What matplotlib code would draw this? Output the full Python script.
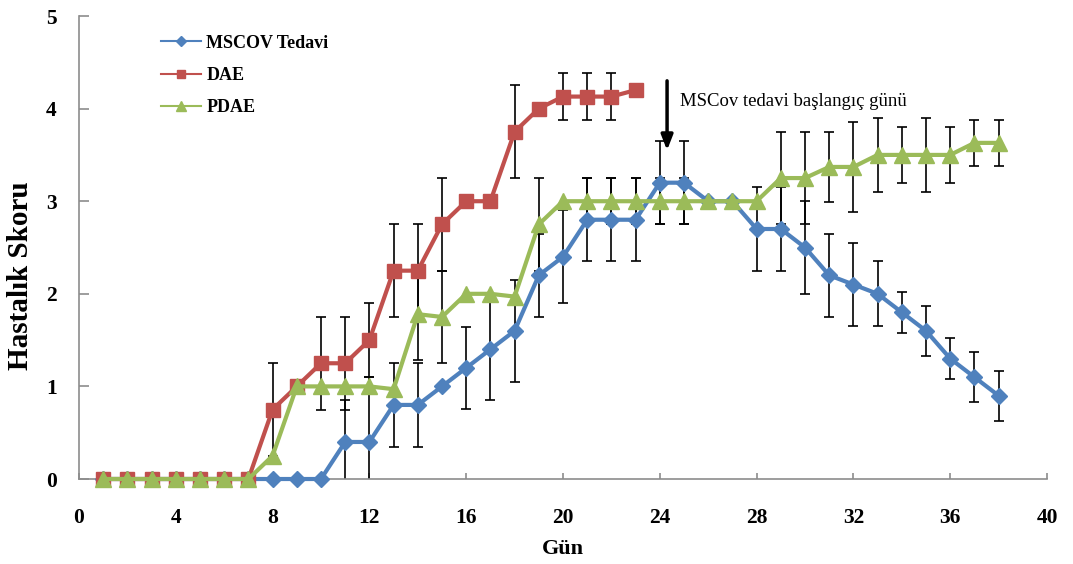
import matplotlib.pyplot as plt
import numpy as np

# Hastalik skoru verileri (gun bazinda ortalama ve hata)
days_mscov = list(range(1, 39))
mscov = [0, 0, 0, 0, 0, 0, 0, 0, 0, 0,
         0.4, 0.4, 0.8, 0.8, 1.0, 1.2, 1.4, 1.6, 2.2, 2.4,
         2.8, 2.8, 2.8, 3.2, 3.2, 3.0, 3.0, 2.7, 2.7, 2.5,
         2.2, 2.1, 2.0, 1.8, 1.6, 1.3, 1.1, 0.9]
mscov_err = [0, 0, 0, 0, 0, 0, 0, 0, 0, 0,
             0.45, 0.7, 0.45, 0.45, 0, 0.44, 0.55, 0.55, 0.45, 0.5,
             0.45, 0.45, 0.45, 0.45, 0.45, 0, 0, 0.45, 0.45, 0.5,
             0.45, 0.45, 0.35, 0.22, 0.27, 0.22, 0.27, 0.27]

days_dae = list(range(1, 24))
dae = [0, 0, 0, 0, 0, 0, 0, 0.75, 1.0, 1.25,
       1.25, 1.5, 2.25, 2.25, 2.75, 3.0, 3.0, 3.75, 4.0, 4.13,
       4.13, 4.13, 4.2]
dae_err = [0, 0, 0, 0, 0, 0, 0, 0.5, 0, 0.5,
           0.5, 0.4, 0.5, 0.5, 0.5, 0, 0, 0.5, 0, 0.25,
           0.25, 0.25, 0]

days_pdae = list(range(1, 39))
pdae = [0, 0, 0, 0, 0, 0, 0, 0.25, 1.0, 1.0,
        1.0, 1.0, 0.97, 1.78, 1.75, 2.0, 2.0, 1.97, 2.75, 3.0,
        3.0, 3.0, 3.0, 3.0, 3.0, 3.0, 3.0, 3.0, 3.25, 3.25,
        3.37, 3.37, 3.5, 3.5, 3.5, 3.5, 3.63, 3.63]
pdae_err = [0, 0, 0, 0, 0, 0, 0, 0, 0, 0,
            0, 0, 0, 0.5, 0.5, 0, 0, 0, 0.5, 0,
            0.25, 0.25, 0.25, 0.25, 0.25, 0, 0, 0, 0.5, 0.5,
            0.38, 0.49, 0.4, 0.3, 0.4, 0.3, 0.25, 0.25]

series = [
    ('MSCOV Tedavi', days_mscov, mscov, mscov_err, '#4F81BD', 'D', 8),
    ('DAE', days_dae, dae, dae_err, '#C0504D', 's', 10.5),
    ('PDAE', days_pdae, pdae, pdae_err, '#9BBB59', '^', 11),
]

plt.rcParams['font.family'] = ['Liberation Serif', 'DejaVu Serif']

fig = plt.figure(figsize=(10.73, 5.64), dpi=100)
ax = fig.add_axes([0.0736, 0.1507, 0.9022, 0.8209])

handles = []
for i, (label, x, y, err, color, marker, ms) in enumerate(series):
    err = np.array(err, dtype=float)
    mask = err > 0
    ax.errorbar(np.array(x)[mask], np.array(y)[mask], yerr=err[mask], fmt='none',
                ecolor='black', elinewidth=1.2, capsize=3.5, capthick=1.2, zorder=2)
    h, = ax.plot(x, y, color=color, marker=marker, markersize=ms, linewidth=3,
                 markeredgecolor=color, label=label, clip_on=False, zorder=3 + i)
    handles.append(h)

ax.set_xlim(0, 40)
ax.set_ylim(0, 5)
ax.set_xticks(range(0, 41, 4))
ax.set_yticks(range(0, 6))

for side in ['top', 'right']:
    ax.spines[side].set_visible(False)
for side in ['left', 'bottom']:
    ax.spines[side].set_color('#8c8c8c')
    ax.spines[side].set_linewidth(1.2)

ax.tick_params(axis='both', direction='in', colors='#8c8c8c', labelcolor='black',
               labelsize=15.5, width=1.2)
ax.tick_params(axis='y', length=7, pad=16)
ax.tick_params(axis='x', length=4, pad=21)
for lbl in ax.get_xticklabels() + ax.get_yticklabels():
    lbl.set_fontweight('bold')

ax.set_xlabel('Gün', fontsize=16, fontweight='bold', labelpad=8)
ax.set_ylabel('Hastalık Skoru', fontsize=21, fontweight='bold')
ax.yaxis.set_label_coords(-0.046, 0.44)

leg = ax.legend(handles=handles, loc='upper left', bbox_to_anchor=(0.068, 0.995),
                frameon=False, handlelength=2.2, labelspacing=0.85,
                markerscale=0.6, handletextpad=0.3, prop={'weight': 'bold', 'size': 13})
for h in leg.legend_handles:
    h.set_linewidth(1.5)

ax.annotate('', xy=(24.3, 3.55), xytext=(24.3, 4.3),
            arrowprops=dict(arrowstyle='-|>,head_width=0.35,head_length=0.9',
                            color='black', linewidth=2.5, shrinkA=0, shrinkB=0),
            annotation_clip=False)
ax.text(24.85, 4.08, 'MSCov tedavi başlangıç günü', fontsize=13.5, va='center', ha='left')

fig.savefig('out.png', dpi=100)
